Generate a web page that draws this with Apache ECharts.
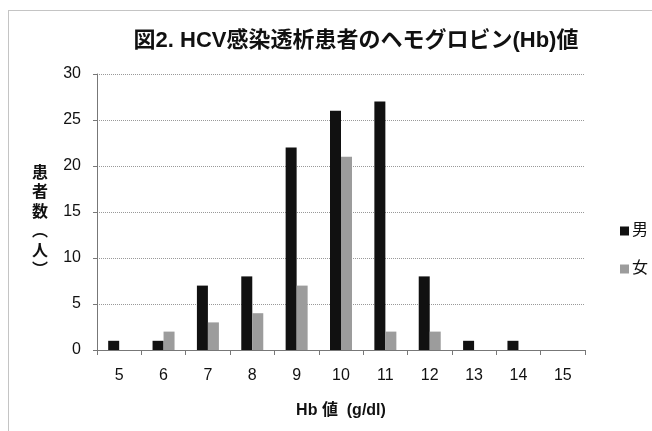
<!DOCTYPE html>
<html>
<head>
<meta charset="utf-8">
<script src="https://cdn.jsdelivr.net/npm/echarts@6/dist/echarts.min.js"></script>
<style>
  html, body { margin: 0; padding: 0; background: #fff; }
  #chart { width: 652px; height: 431px; }
</style>
</head>
<body>
<div id="chart"></div>
<script>
const categories = ["5", "6", "7", "8", "9", "10", "11", "12", "13", "14", "15"];
const maleData = [1, 1, 7, 8, 22, 26, 27, 8, 1, 1, 0];
const femaleData = [0, 2, 3, 4, 7, 21, 2, 2, 0, 0, 0];
const seriesNames = ["男", "女"];

const font = "'Liberation Sans', 'Noto Sans CJK JP', sans-serif";
const myChart = echarts.init(document.getElementById("chart"));

const option = {
  animation: false,
  backgroundColor: "#fff",
  textStyle: { fontFamily: font },
  title: {
    text: "図2. HCV感染透析患者のヘモグロビン(Hb)値",
    left: 351,
    textAlign: "center",
    top: 25,
    textStyle: { fontSize: 22, fontWeight: "bold", color: "#111", fontFamily: font },
  },
  legend: {
    orient: "vertical",
    left: 615,
    top: 218,
    itemWidth: 9,
    itemHeight: 9,
    itemGap: 22,
    icon: "rect",
    data: seriesNames,
    textStyle: { fontSize: 16, color: "#111", padding: [0, 0, 0, -2] },
  },
  grid: { left: 97, right: 67, top: 74, bottom: 81 },
  xAxis: {
    type: "category",
    data: categories,
    name: "Hb 値  (g/dl)",
    nameLocation: "middle",
    nameGap: 53,
    nameTextStyle: { fontSize: 16, fontWeight: "bold", color: "#111" },
    axisLine: { lineStyle: { color: "#777", width: 1 } },
    axisTick: { show: true, length: 5, lineStyle: { color: "#777" } },
    axisLabel: { fontSize: 16, color: "#111", margin: 18 },
  },
  yAxis: {
    type: "value",
    min: 0,
    max: 30,
    interval: 5,
    axisLine: { show: true, lineStyle: { color: "#777", width: 1 } },
    axisTick: { show: true, length: 4, inside: false, lineStyle: { color: "#777" } },
    axisLabel: { fontSize: 16, color: "#111", margin: 16 },
    splitLine: { lineStyle: { color: "#999", type: "dotted", width: 1 } },
  },
  graphic: [
    {
      type: "rect",
      shape: { x: 8.5, y: 10.5, width: 660, height: 440 },
      style: { fill: null, stroke: "#888", lineDash: [1, 1], lineWidth: 1 },
      silent: true,
    },
    {
      type: "text",
      left: 32,
      top: 162,
      style: {
        text: "患\n者\n数\n︵\n人\n︶",
        font: "bold 16px 'Noto Sans CJK JP'",
        fill: "#111",
        lineHeight: 19.5,
      },
    },
  ],
  series: [
    {
      name: seriesNames[0],
      type: "bar",
      data: maleData,
      barWidth: 11,
      barGap: "0%",
      itemStyle: { color: "#111" },
    },
    {
      name: seriesNames[1],
      type: "bar",
      data: femaleData,
      barWidth: 11,
      itemStyle: { color: "#9c9c9c" },
    },
  ],
};

myChart.setOption(option);
window.onresize = function () {
  myChart.resize();
};
</script>
</body>
</html>
